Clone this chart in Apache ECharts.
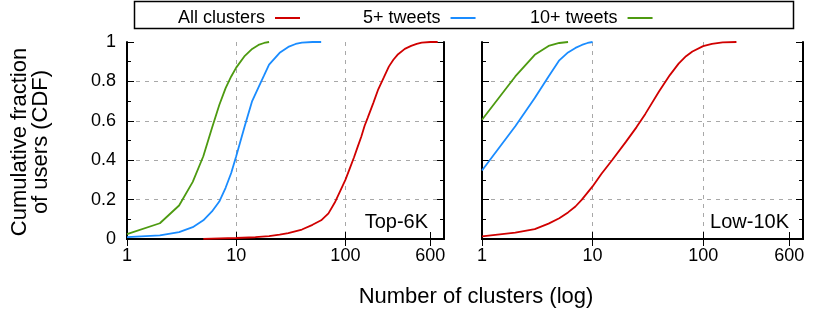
<!DOCTYPE html>
<html><head><meta charset="utf-8">
<script src="https://cdn.jsdelivr.net/npm/echarts@6/dist/echarts.min.js"></script>
<style>html,body{margin:0;padding:0;background:#fff}#c{width:830px;height:318px}</style>
</head><body><div id="c"></div>
<script>
// ---- data ----
const xTickValues = [1, 10, 100, 600];
const seriesNames = ['All clusters', '5+ tweets', '10+ tweets'];
const panelLabels = ['Top-6K', 'Low-10K'];
const xTitle = 'Number of clusters (log)';
const yTitle = 'Cumulative fraction\nof users (CDF)';

// Top-6K panel
const topAllX = [5, 10, 15, 20, 25, 30, 40, 50, 60, 70, 80, 90, 100, 110, 120, 130, 140, 150, 160, 180, 200, 225, 250, 275, 300, 350, 400, 450, 500, 600, 700];
const topAllY = [0.001, 0.005, 0.009, 0.015, 0.022, 0.03, 0.048, 0.072, 0.095, 0.13, 0.185, 0.245, 0.30, 0.36, 0.415, 0.47, 0.52, 0.575, 0.615, 0.69, 0.76, 0.82, 0.875, 0.91, 0.935, 0.965, 0.98, 0.99, 0.997, 1, 1];
const top5X = [1, 2, 3, 4, 5, 6, 7, 8, 9, 10, 12, 14, 16, 18, 20, 25, 30, 35, 40, 50, 60];
const top5Y = [0.01, 0.018, 0.035, 0.06, 0.095, 0.14, 0.19, 0.26, 0.335, 0.42, 0.575, 0.70, 0.77, 0.83, 0.885, 0.945, 0.975, 0.99, 0.997, 1, 1];
const top10X = [1, 2, 3, 4, 5, 6, 7, 8, 9, 10, 12, 14, 16, 18, 20];
const top10Y = [0.025, 0.08, 0.17, 0.29, 0.42, 0.563, 0.68, 0.766, 0.825, 0.87, 0.93, 0.965, 0.985, 0.995, 1];

// Low-10K panel
const lowAllX = [1, 2, 3, 4, 5, 6, 7, 8, 10, 12, 15, 20, 25, 30, 40, 50, 60, 70, 80, 100, 120, 150, 200];
const lowAllY = [0.013, 0.032, 0.05, 0.078, 0.105, 0.135, 0.165, 0.2, 0.267, 0.33, 0.4, 0.493, 0.568, 0.635, 0.75, 0.832, 0.89, 0.928, 0.952, 0.979, 0.99, 0.998, 1];
const low5X = [1, 2, 3, 4, 5, 6, 7, 8, 9, 10];
const low5Y = [0.348, 0.572, 0.716, 0.825, 0.907, 0.947, 0.97, 0.985, 0.995, 1];
const low10X = [1, 2, 3, 4, 5, 6];
const low10Y = [0.605, 0.825, 0.935, 0.98, 0.995, 1];

// ---- styling ----
const FONT = "'Liberation Sans', Arial, Helvetica, sans-serif";
const colors = ['#d00000', '#1a8cff', '#4d9a10'];
const zip = (xs, ys) => xs.map((x, i) => [x, ys[i]]);

const grids = [
  { left: 127, top: 42, width: 317, height: 197 },
  { left: 482, top: 42, width: 321, height: 197 }
];
const splitStyle = { show: true, showMinLine: false, showMaxLine: false,
  lineStyle: { color: '#a8a8a8', type: [4, 5], width: 1 } };
const axisLine = { show: true, lineStyle: { color: '#000', width: 2 } };

const xAxes = [], yAxes = [];
grids.forEach((g, i) => {
  xAxes.push({
    type: 'log', logBase: 10, min: 1, max: 800, gridIndex: i, position: 'bottom',
    axisLine: axisLine,
    axisTick: { show: true, inside: true, length: 7, customValues: xTickValues, lineStyle: { color: '#000', width: 1 } },
    axisLabel: { show: true, customValues: xTickValues, color: '#000', fontSize: 18, fontFamily: FONT, margin: 8 },
    splitLine: splitStyle, minorTick: { show: false }
  });
  xAxes.push({
    type: 'log', logBase: 10, min: 1, max: 800, gridIndex: i, position: 'top',
    axisLine: axisLine,
    axisTick: { show: true, inside: true, length: 7, customValues: xTickValues, lineStyle: { color: '#000', width: 1 } },
    axisLabel: { show: false }, splitLine: { show: false }
  });
  yAxes.push({
    type: 'value', min: 0, max: 1, interval: 0.2, gridIndex: i, position: 'left',
    axisLine: axisLine,
    axisTick: { show: true, inside: true, length: 7, lineStyle: { color: '#000', width: 1 } },
    minorTick: { show: true, splitNumber: 2, length: 4, lineStyle: { color: '#000', width: 1 } },
    axisLabel: { show: i === 0, color: '#000', fontSize: 18, fontFamily: FONT, margin: 11 },
    splitLine: splitStyle
  });
  yAxes.push({
    type: 'value', min: 0, max: 1, interval: 0.2, gridIndex: i, position: 'right',
    axisLine: axisLine,
    axisTick: { show: true, inside: true, length: 7, lineStyle: { color: '#000', width: 1 } },
    minorTick: { show: true, splitNumber: 2, length: 4, lineStyle: { color: '#000', width: 1 } },
    axisLabel: { show: false }, splitLine: { show: false }
  });
});

const panels = [
  [zip(topAllX, topAllY), zip(top5X, top5Y), zip(top10X, top10Y)],
  [zip(lowAllX, lowAllY), zip(low5X, low5Y), zip(low10X, low10Y)]
];
const series = [];
panels.forEach((sets, p) => {
  sets.forEach((data, k) => {
    series.push({
      name: seriesNames[k], type: 'line', xAxisIndex: p * 2, yAxisIndex: p * 2,
      data: data, showSymbol: false, symbol: 'none', smooth: false,
      lineStyle: { color: colors[k], width: 1.8 }, itemStyle: { color: colors[k] },
      animation: false, z: 3
    });
  });
});

const legendLefts = [173, 358, 525];
const legends = seriesNames.map((n, k) => ({
  data: [n], left: legendLefts[k], top: 4, align: 'right', orient: 'horizontal',
  icon: 'rect', itemWidth: 25, itemHeight: 2,
  formatter: (name) => name + ' ',
  textStyle: { color: '#000', fontSize: 18, fontFamily: FONT },
  selectedMode: false
}));

const chart = echarts.init(document.getElementById('c'), null, { renderer: 'canvas' });
chart.setOption({
  backgroundColor: '#fff',
  animation: false,
  color: colors,
  grid: grids,
  xAxis: xAxes,
  yAxis: yAxes,
  legend: legends,
  series: series,
  graphic: [
    { type: 'rect', shape: { x: 134.5, y: 1.5, width: 659, height: 27 },
      style: { fill: 'none', stroke: '#000', lineWidth: 1.5 }, z: 10 },
    { type: 'text', x: 428, y: 222,
      style: { text: panelLabels[0], fill: '#000', font: '20px ' + FONT, align: 'right', verticalAlign: 'middle' } },
    { type: 'text', x: 789, y: 222,
      style: { text: panelLabels[1], fill: '#000', font: '20px ' + FONT, align: 'right', verticalAlign: 'middle' } },
    { type: 'text', x: 476, y: 297,
      style: { text: xTitle, fill: '#000', font: '22px ' + FONT, align: 'center', verticalAlign: 'middle' } },
    { type: 'text', x: 30, y: 142, rotation: Math.PI / 2,
      style: { text: yTitle, fill: '#000', font: '22px ' + FONT, align: 'center', verticalAlign: 'middle', lineHeight: 21 } }
  ]
});
</script>
</body></html>
